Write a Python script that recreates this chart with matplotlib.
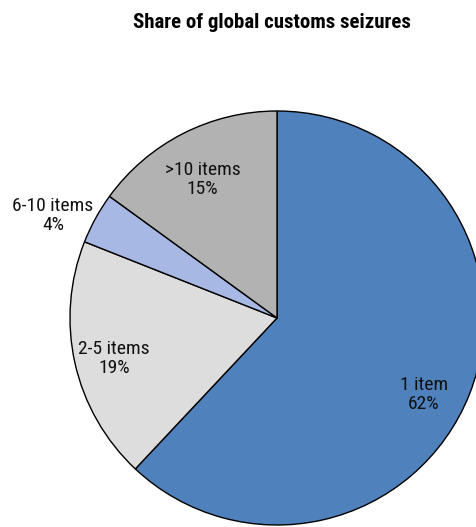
import numpy as np
import matplotlib.pyplot as plt

labels = ['1 item', '2-5 items', '6-10 items', '>10 items']
shares = [62, 19, 4, 15]
colors = ['#4f81bd', '#dddddd', '#a7b8e4', '#b2b2b2']
# label radius (fraction of pie radius) and angle shift from wedge middle, degrees
label_dist = [0.80, 0.81, 1.19, 0.76]
label_shift = [-6.0, 1.3, 4.2, 1.2]

plt.rcParams['font.family'] = ['Roboto Condensed', 'Liberation Sans', 'DejaVu Sans']

fig = plt.figure(figsize=(4.77, 5.27), dpi=100)
ax = fig.add_axes([0, 0, 1, 1])

cx, cy, r = 277, 209, 207
wedges, _ = ax.pie(shares, colors=colors, startangle=90, counterclock=False,
                   center=(cx, cy), radius=r,
                   wedgeprops=dict(edgecolor='black', linewidth=1.0))
ax.set_xlim(0, 477)
ax.set_ylim(0, 527)
ax.set_aspect('equal')
ax.axis('off')

for w, lab, s, d, sh in zip(wedges, labels, shares, label_dist, label_shift):
    ang = np.deg2rad((w.theta1 + w.theta2) / 2 + sh)
    x = cx + d * r * np.cos(ang)
    y = cy + d * r * np.sin(ang)
    ax.text(x, y, f'{lab}\n{s}%', ha='center', va='center',
            fontsize=14, color='#111111', linespacing=1.05)

fig.text(271.5 / 477, 1 - 22 / 527, 'Share of global customs seizures',
         ha='center', va='center', fontsize=15, fontweight='bold')

fig.savefig('out.png', dpi=100)
